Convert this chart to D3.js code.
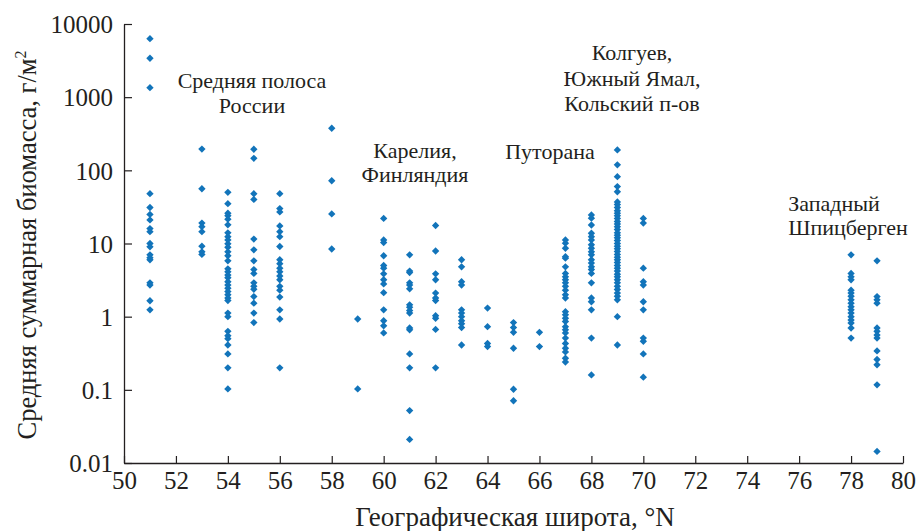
<!DOCTYPE html>
<html><head><meta charset="utf-8">
<script src="https://cdn.jsdelivr.net/npm/d3@7"></script>
<style>
html,body{margin:0;padding:0;background:#fff;}
</style></head>
<body><svg id="c" width="918" height="531"></svg>
<script>
// ---- data ----
const latitudes = [51,53,54,55,56,58,59,60,61,62,63,64,65,66,67,68,69,70,78,79];
const v51 = [6300,3400,1350,48,31,25,21,16,14.5,10,9,7,6.4,6,2.9,2.7,1.65,1.24];
const v53 = [195,56,19,17,14.5,9.2,7.7,7.1];
const v54 = [50,35,26,24,21.5,18,14,12.4,11.2,9.9,8.9,7.7,6.8,5.8,4.5,4.1,3.7,3.4,3.0,2.7,2.45,2.2,2.0,1.8,1.66,1.12,1.0,0.63,0.55,0.5,0.41,0.31,0.2,0.103];
const v55 = [194,146,48,40,11.5,8.2,5.8,4.4,3.9,2.9,2.6,2.37,1.88,1.53,1.12,0.83];
const v56 = [48,30,27,17.4,14.5,12.4,9.1,6,5.3,4.6,4.1,3.6,3.2,2.6,2.3,1.85,1.24,0.93,0.2];
const v58 = [376,72,25.4,8.4];
const v59 = [0.93,0.103];
const v60 = [22,11.2,10.3,6.8,5,4.6,3.85,3.2,2.8,2.13,1.24,0.88,0.75,0.6];
const v61 = [7,4.2,4,2.9,2.7,2.4,1.45,1.35,1.21,1.12,0.7,0.66,0.31,0.2,0.052,0.021];
const v62 = [17.6,7.9,3.85,3.2,2.1,1.8,1.66,1.03,0.95,0.67,0.2];
const v63 = [6,4.8,3,2.7,1.24,1.12,1,0.88,0.8,0.71,0.41];
const v64 = [1.31,0.73,0.43,0.39];
const v65 = [0.83,0.71,0.61,0.37,0.102,0.071];
const v66 = [0.61,0.39];
const v67 = [11.2,10.1,8.6,6.6,6.3,4.8,3.9,3.5,3.2,2.9,2.6,2.3,2.0,1.8,1.17,1.06,0.95,0.86,0.73,0.66,0.6,0.51,0.43,0.37,0.33,0.27,0.24];
const v68 = [24.6,22.2,17.9,13.8,12.4,11.2,9.6,8.6,7.7,7,6,5.4,4.8,4.4,3.9,2.9,1.8,1.6,1.24,0.51,0.16];
const v69 = [190,119,82,60,51,37,34,31,28,26,24,22,20,18.5,17,15.5,14,13,12,11,10,9.2,8.5,7.8,7.1,6.5,6,5.5,5,4.6,4.2,3.8,3.5,3.2,2.9,2.6,2.35,2.1,1.9,1.7,1.0,0.41];
const v70 = [22,19,4.6,3,2.7,1.6,1.24,0.51,0.46,0.31,0.149];
const v78 = [7,3.9,3.5,3.2,2.3,2.1,1.9,1.7,1.53,1.37,1.24,1.12,1.0,0.9,0.82,0.7,0.51];
const v79 = [5.8,1.88,1.7,1.53,0.7,0.63,0.56,0.51,0.34,0.26,0.22,0.117,0.0144];
const seriesValues = [v51,v53,v54,v55,v56,v58,v59,v60,v61,v62,v63,v64,v65,v66,v67,v68,v69,v70,v78,v79];
const xTicks = [50,52,54,56,58,60,62,64,66,68,70,72,74,76,78,80];
const yTicks = [0.01,0.1,1,10,100,1000,10000];
const yTickLabels = ["0.01","0.1","1","10","100","1000","10000"];
const regionLabels = [
  ["Средняя полоса","России"],
  ["Карелия,","Финляндия"],
  ["Путорана"],
  ["Колгуев,","Южный Ямал,","Кольский п-ов"],
  ["Западный","Шпицберген"]
];
const xTitle = "Географическая широта, °N";
const yTitle = "Средняя суммарная биомасса, г/м";

// ---- chart ----
const FONT = '"Liberation Serif"';
const svg = d3.select("#c");
const x = d3.scaleLinear().domain([50,80]).range([124,903]);
const y = d3.scaleLog().domain([0.01,10000]).range([463,24]);
const ink = "#231f20";
const blue = "#1274ba";

const points = [];
latitudes.forEach((lat,i)=>seriesValues[i].forEach(v=>points.push({lat,v})));

svg.append("g").selectAll("path").data(points).join("path")
  .attr("d", d3.symbol().type(d3.symbolSquare).size(27))
  .attr("transform", d=>`translate(${x(d.lat)},${y(d.v)}) rotate(45)`)
  .attr("fill", blue);

const xAxis = svg.append("g").attr("transform","translate(0,463)")
  .call(d3.axisBottom(x).tickValues(xTicks).tickFormat(d3.format("d")).tickSizeInner(-7).tickSizeOuter(0).tickPadding(8));
const yAxis = svg.append("g").attr("transform","translate(124,0)")
  .call(d3.axisLeft(y).tickValues(yTicks).tickFormat((d,i)=>yTickLabels[i]).tickSizeInner(-8).tickSizeOuter(0).tickPadding(11));
[xAxis,yAxis].forEach(g=>{
  g.select(".domain").attr("stroke",ink).attr("stroke-width",1.3);
  g.selectAll(".tick line").attr("stroke",ink).attr("stroke-width",1.2);
  g.selectAll(".tick text").attr("fill",ink).style("font-family",FONT).style("font-size","25px");
});
xAxis.selectAll(".tick text").attr("dy","0.71em");
yAxis.selectAll(".tick text").attr("dy","0.35em");

// titles
svg.append("text").attr("x",515).attr("y",526).attr("text-anchor","middle")
  .style("font-family",FONT).style("font-size","27px").attr("fill",ink).text(xTitle);
const yt = svg.append("text").attr("transform","translate(36,245) rotate(-90)")
  .style("font-family",FONT).style("font-size","26.5px").attr("fill",ink)
  .attr("text-anchor","middle");
yt.append("tspan").text(yTitle);
yt.append("tspan").attr("dy",-10).style("font-size","16px").text("2");

// region annotations
const annPos = [
  {x:[252,252], y:[88,113]},
  {x:[415,415], y:[158,182]},
  {x:[550], y:[159]},
  {x:[632,632,632], y:[60,86,111]},
  {x:[834,848], y:[211,235]}
];
regionLabels.forEach((lines,i)=>{
  lines.forEach((t,j)=>{
    svg.append("text").attr("x",annPos[i].x[j]).attr("y",annPos[i].y[j])
      .style("font-family",FONT).style("font-size","22px").attr("fill",ink)
      .attr("text-anchor","middle").text(t);
  });
});
</script></body></html>
